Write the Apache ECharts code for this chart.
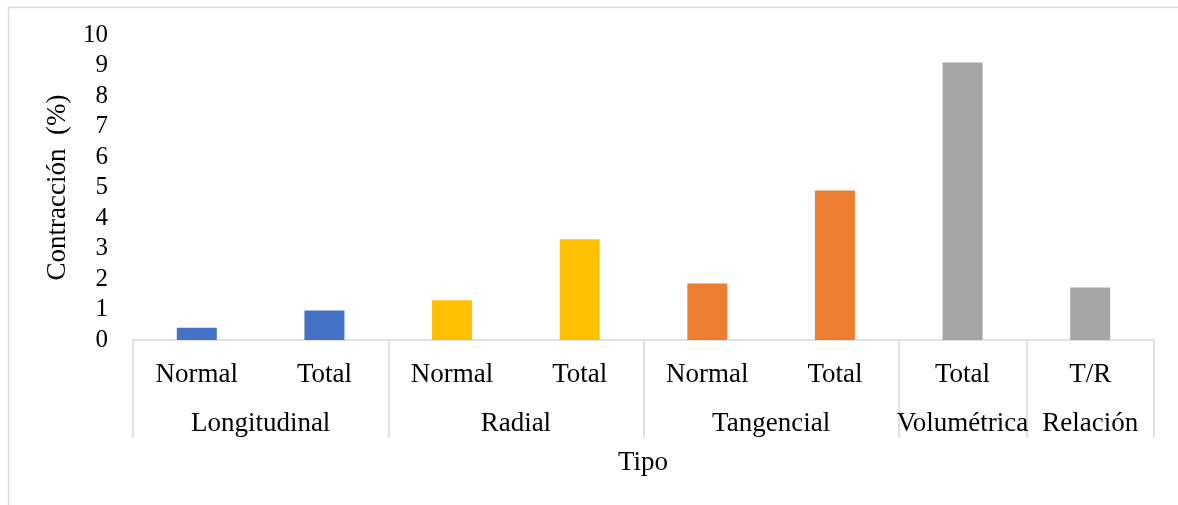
<!DOCTYPE html>
<html>
<head>
<meta charset="utf-8">
<script src="https://cdn.jsdelivr.net/npm/echarts@6/dist/echarts.min.js"></script>
<style>html,body{margin:0;padding:0;background:#fff;}#c{width:1178px;height:505px;}</style>
</head>
<body>
<div id="c"></div>
<script>
const subLabels = ['Normal','Total','Normal','Total','Normal','Total','Total','T/R'];
const values = [0.4, 0.97, 1.3, 3.3, 1.85, 4.9, 9.1, 1.72];
const groups = ['Longitudinal','Radial','Tangencial','Volumétrica','Relación'];
const groupSizes = [2, 2, 2, 1, 1];
const groupColors = ['#4472C4','#FFC000','#ED7D31','#A5A5A5','#A5A5A5'];
const yTicks = [0,1,2,3,4,5,6,7,8,9,10];

// derived
const boundaries = [0];
const centers = [];
const itemColors = [];
groupSizes.forEach((n, i) => {
  const start = boundaries[boundaries.length - 1];
  centers.push(start + n / 2);
  boundaries.push(start + n);
  for (let k = 0; k < n; k++) itemColors.push(groupColors[i]);
});
const FONT = '"Liberation Serif", "Times New Roman", serif';

const chart = echarts.init(document.getElementById('c'), null, {renderer: 'canvas'});
chart.setOption({
  animation: false,
  backgroundColor: '#fff',
  grid: {left: 133, right: 24, top: 35, bottom: 165, containLabel: false},
  xAxis: [{
    type: 'category',
    data: subLabels,
    axisLine: {show: true, lineStyle: {color: '#d9d9d9', width: 1.5}},
    axisTick: {show: false},
    axisLabel: {color: '#000', fontFamily: FONT, fontSize: 27, margin: 21, interval: 0},
    splitLine: {show: false}
  }, {
    type: 'value',
    min: 0,
    max: boundaries[boundaries.length - 1],
    position: 'bottom',
    axisLine: {show: false},
    axisTick: {show: true, customValues: boundaries, length: 98, lineStyle: {color: '#d9d9d9', width: 1.5}},
    axisLabel: {
      show: true, customValues: centers, color: '#000', fontFamily: FONT, fontSize: 27, margin: 70,
      formatter: v => { const i = centers.indexOf(v); return i >= 0 ? groups[i] : ''; }
    },
    splitLine: {show: false}
  }],
  yAxis: {
    type: 'value',
    min: yTicks[0],
    max: yTicks[yTicks.length - 1],
    interval: 1,
    axisLine: {show: false},
    axisTick: {show: false},
    splitLine: {show: false},
    axisLabel: {color: '#000', fontFamily: FONT, fontSize: 25, margin: 25},
    name: 'Contracción  (%)',
    nameLocation: 'middle',
    nameGap: 62,
    nameTextStyle: {color: '#000', fontFamily: FONT, fontSize: 27}
  },
  graphic: [{
    type: 'rect',
    shape: {x: 8.5, y: 7.5, width: 1300, height: 700},
    style: {fill: 'none', stroke: '#d9d9d9', lineWidth: 1.5},
    silent: true
  }, {
    type: 'text',
    x: 643,
    y: 449,
    style: {text: 'Tipo', fill: '#000', font: '27px ' + FONT, textAlign: 'center'}
  }],
  series: [{
    type: 'bar',
    xAxisIndex: 0,
    barWidth: 40,
    data: values.map((v, i) => ({value: v, itemStyle: {color: itemColors[i]}}))
  }]
});
</script>
</body>
</html>
